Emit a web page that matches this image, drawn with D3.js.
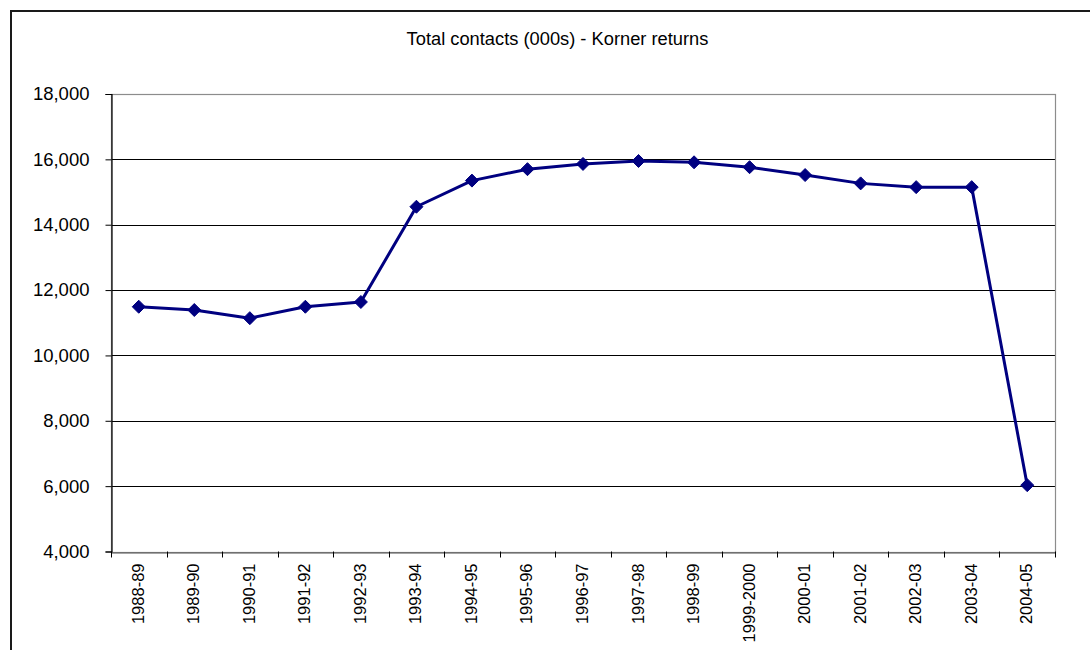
<!DOCTYPE html>
<html>
<head>
<meta charset="utf-8">
<script src="https://cdn.jsdelivr.net/npm/d3@7"></script>
<style>
  html, body { margin: 0; padding: 0; background: #fff; }
  svg { display: block; font-family: "Liberation Sans", Arial, sans-serif; }
</style>
</head>
<body>
<svg id="chart" width="1090" height="650"></svg>
<script>
const title = "Total contacts (000s) - Korner returns";
const categories = ["1988-89","1989-90","1990-91","1991-92","1992-93","1993-94","1994-95","1995-96","1996-97","1997-98","1998-99","1999-2000","2000-01","2001-02","2002-03","2003-04","2004-05"];
const values = [11490, 11390, 11140, 11490, 11635, 14550, 15350, 15700, 15860, 15950, 15910, 15760, 15520, 15265, 15150, 15150, 6030];
const yTicks = [4000, 6000, 8000, 10000, 12000, 14000, 16000, 18000];

const svg = d3.select("#chart");
const m = { left: 111, right: 1055, top: 94, bottom: 551.5 };

// outer frame
svg.append("path")
  .attr("d", "M11,660 L11,11 L1100,11")
  .attr("fill", "none").attr("stroke", "#1a1a1a").attr("stroke-width", 2);

const x = d3.scaleBand().domain(categories).range([m.left, m.right]).padding(0);
const y = d3.scaleLinear().domain([4000, 18000]).range([m.bottom, m.top]);

// gridlines
svg.append("g").selectAll("line").data(yTicks.filter(t => t > 4000 && t < 18000)).join("line")
  .attr("x1", m.left).attr("x2", m.right)
  .attr("y1", d => Math.round(y(d)) + 0.5).attr("y2", d => Math.round(y(d)) + 0.5)
  .attr("stroke", "#000").attr("stroke-width", 1);

// plot border (gray)
svg.append("rect")
  .attr("x", m.left + 0.5).attr("y", m.top + 0.5)
  .attr("width", m.right - m.left).attr("height", Math.round(m.bottom - m.top))
  .attr("fill", "none").attr("stroke", "#8c8c8c").attr("stroke-width", 1.2);

// y axis
const yAxis = d3.axisLeft(y).tickValues(yTicks).tickSize(6).tickPadding(16)
  .tickFormat(d3.format(","));
const gy = svg.append("g").attr("transform", `translate(${m.left + 0.5},0)`).call(yAxis);
gy.select(".domain").attr("stroke", "#000").attr("stroke-width", 1.2);
gy.selectAll(".tick line").attr("stroke", "#000");
gy.selectAll(".tick text").attr("font-size", 18.5).attr("fill", "#000")
  .attr("font-family", "Liberation Sans, Arial, sans-serif");

// x axis
const xAxis = d3.axisBottom(x).tickSize(0).tickPadding(0);
const gx = svg.append("g").attr("transform", `translate(0,${Math.round(m.bottom) + 0.5})`).call(xAxis);
gx.select(".domain").attr("stroke", "#555").attr("stroke-width", 1.2);
gx.selectAll(".tick text")
  .attr("font-size", 16.5).attr("fill", "#000")
  .attr("font-family", "Liberation Sans, Arial, sans-serif")
  .attr("text-anchor", "end")
  .attr("transform", "translate(5,11) rotate(-90)")
  .attr("dy", 0).attr("y", 0).attr("x", 0);
// boundary tick marks
svg.append("g").selectAll("line").data(categories.map(c => x(c)).concat([x.range()[1]])).join("line")
  .attr("x1", d => Math.round(d) + 0.5).attr("x2", d => Math.round(d) + 0.5)
  .attr("y1", m.bottom).attr("y2", m.bottom + 6)
  .attr("stroke", "#000").attr("stroke-width", 1);

// title
svg.append("text").attr("x", 557.5).attr("y", 45)
  .attr("text-anchor", "middle").attr("font-size", 18.3).attr("fill", "#000")
  .text(title);

// line
const cx = d => x(d) + x.bandwidth() / 2;
const line = d3.line().x((d, i) => cx(categories[i])).y(d => y(d));
svg.append("path").datum(values)
  .attr("d", line).attr("fill", "none")
  .attr("stroke", "#000080").attr("stroke-width", 3).attr("stroke-linejoin", "round");

// markers
const r = 6.5;
svg.append("g").selectAll("path").data(values).join("path")
  .attr("d", (d, i) => {
    const px = cx(categories[i]), py = y(d);
    return `M${px},${py - r}L${px + r},${py}L${px},${py + r}L${px - r},${py}Z`;
  })
  .attr("fill", "#000080").attr("stroke", "#000080").attr("stroke-width", 1);
</script>
</body>
</html>
